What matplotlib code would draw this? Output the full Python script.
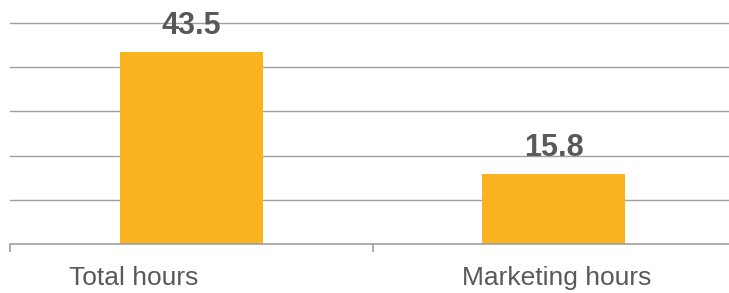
import matplotlib
matplotlib.use("Agg")
from matplotlib import pyplot as plt
from matplotlib.transforms import ScaledTranslation

categories = ["Total hours", "Marketing hours"]
hours = [43.5, 15.8]

bar_color = "#F9B31F"
grid_color = "#A0A0A0"
text_color = "#595959"

plt.rcParams["font.family"] = ["Liberation Sans", "DejaVu Sans"]

fig = plt.figure(figsize=(7.29, 2.93), dpi=100)
ax = fig.add_axes([10 / 729, 49.3 / 293, 725 / 729, 220.4 / 293])

x = list(range(len(categories)))
ax.bar(x, hours, width=0.395, color=bar_color, zorder=2)

for xi, v in zip(x, hours):
    ax.annotate("{0:.1f}".format(v), (xi, v), xytext=(0, 13),
                textcoords="offset points", ha="center", va="baseline",
                fontsize=22, fontweight="bold", color=text_color,
                annotation_clip=False, zorder=3)

ax.set_xlim(-0.5, len(categories) - 0.5)
ax.set_ylim(0, 50)
ax.set_yticks([10, 20, 30, 40, 50])
ax.yaxis.grid(True, color=grid_color, linewidth=1.0, zorder=1)
for gl in ax.get_ygridlines():
    gl.set_clip_on(False)
ax.tick_params(axis="y", left=False, labelleft=False)

for s in ["top", "right", "left"]:
    ax.spines[s].set_visible(False)
ax.spines["bottom"].set_color(grid_color)
ax.spines["bottom"].set_linewidth(1.2)

ax.set_xticks(x)
ax.set_xticklabels(categories, fontsize=19, color=text_color)
ax.set_xticks([-0.5, 0.5, 1.5], minor=True)
ax.tick_params(axis="x", which="major", length=0, pad=16)
ax.tick_params(axis="x", which="minor", length=6, width=1.2, color=grid_color)

# label offsets as in the source picture
shifts = [-58, 3]
for lab, dx in zip(ax.get_xticklabels(), shifts):
    lab.set_transform(lab.get_transform() + ScaledTranslation(dx / 100, 0, fig.dpi_scale_trans))

plt.savefig("out.png", dpi=100)
